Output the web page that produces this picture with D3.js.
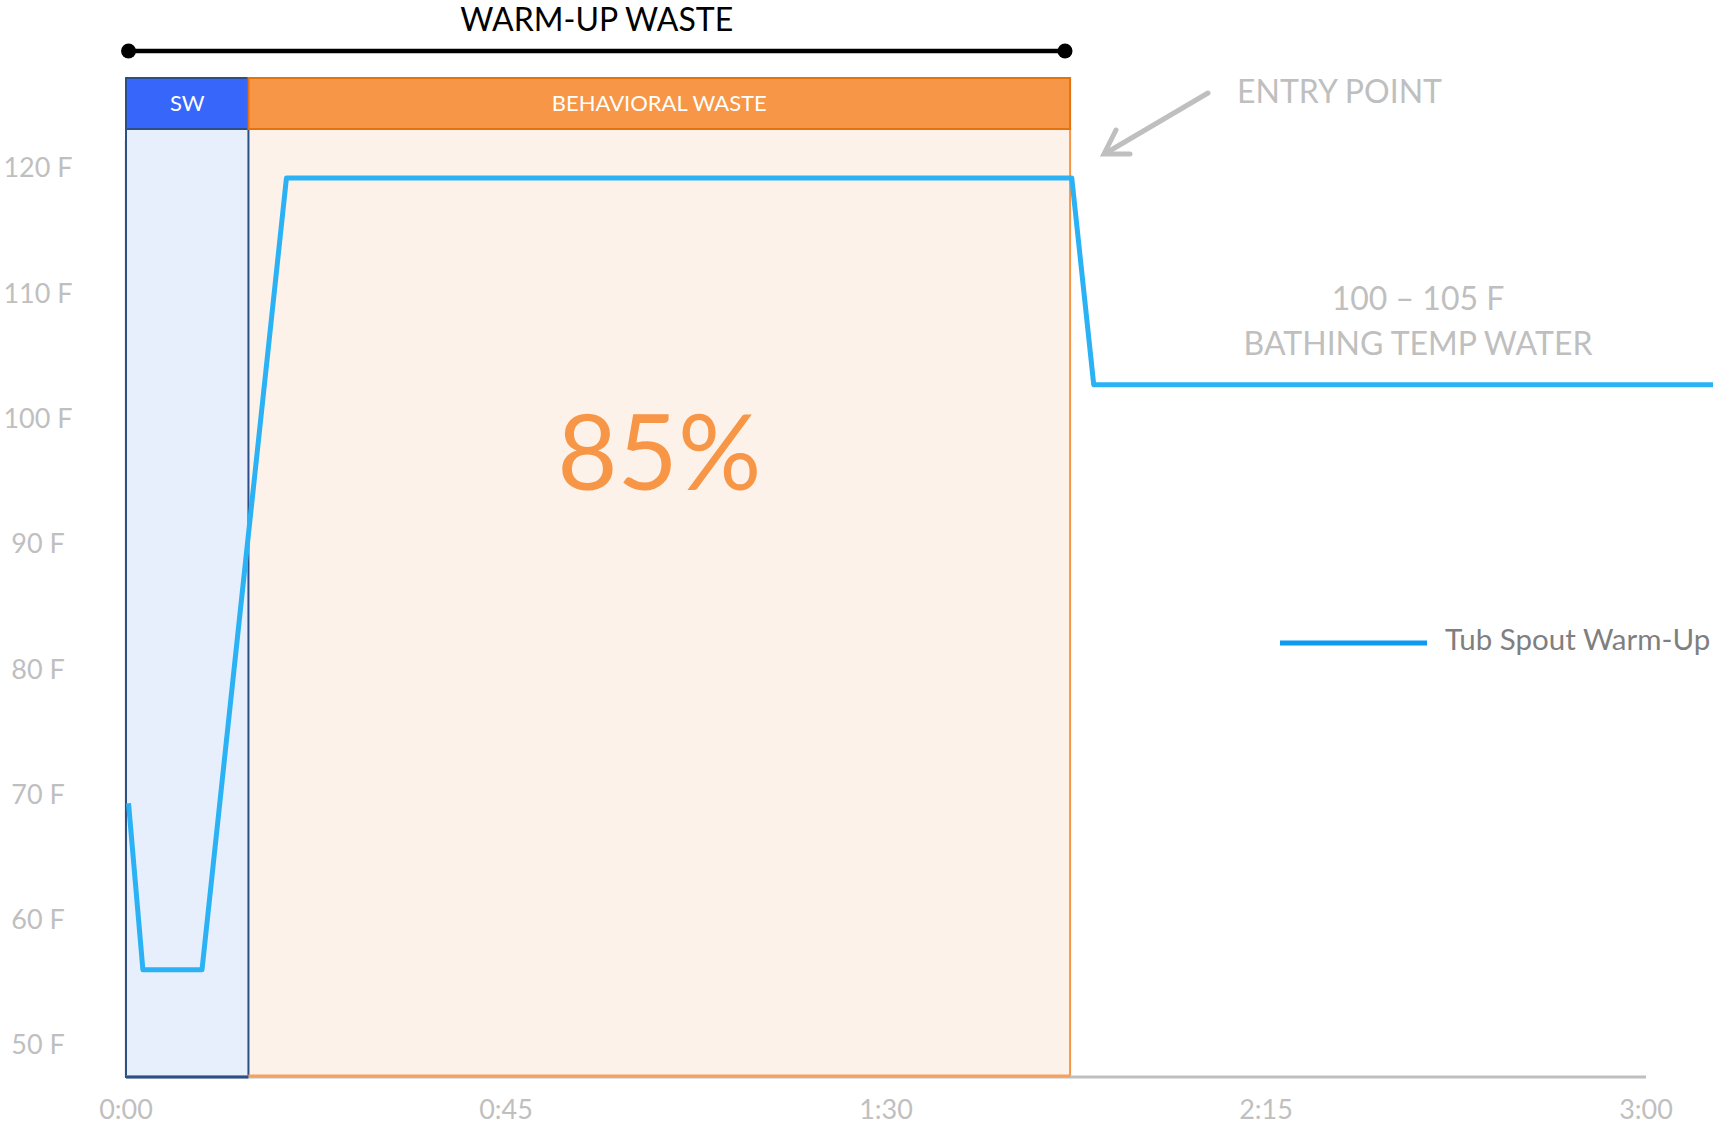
<!DOCTYPE html>
<html>
<head>
<meta charset="utf-8">
<script src="https://cdn.jsdelivr.net/npm/d3@7"></script>
<style>
  body { margin: 0; background: #fff; }
  svg { display: block; font-family: Lato, "Open Sans", sans-serif; }
</style>
</head>
<body>
<svg id="chart"></svg>
<script>
// series: tub spout temperature over time (seconds, deg F)
const times = [0.3, 2, 9, 19, 112, 114.6, 190];
const temps = [69.3, 56, 56, 119.2, 119.2, 102.7, 102.7];

const yTicks = [50, 60, 70, 80, 90, 100, 110, 120];
const xTicks = [0, 45, 90, 135, 180];
const xTickLabels = ['0:00', '0:45', '1:30', '2:15', '3:00'];

// shaded phases (seconds)
const phaseNames = ['SW', 'BEHAVIORAL WASTE'];
const phaseStart = [0, 14.5];
const phaseEnd = [14.5, 111.8];

const bracket = [0.3, 111.2];
const bracketLabel = 'WARM-UP WASTE';
const bigLabel = '85%';
const seriesName = 'Tub Spout Warm-Up';

const width = 1713;
const height = 1124;
const yMin = 47.45;

const x = d3.scaleLinear().domain([0, 180]).range([126, 1646]);
const y = d3.scaleLinear().domain([50, 120]).range([1045, 168]);
const base = y(yMin);

const svg = d3.select('#chart').attr('width', width).attr('height', height);

const headTop = 78, headBot = 129;
const phaseStyle = [
  { head: '#3766fb', headStroke: '#2c4f86', body: '#e8effc', size: 22 },
  { head: '#f79646', headStroke: '#e3720f', body: '#fdf2e9', size: 22 }
];

// y axis line
svg.append('line')
  .attr('x1', x(0)).attr('x2', x(0))
  .attr('y1', 140).attr('y2', base)
  .attr('stroke', '#bfbfbf').attr('stroke-width', 2.5);

// phase bodies
phaseNames.forEach((name, i) => {
  const s = phaseStyle[i];
  const x0 = x(phaseStart[i]), x1 = x(phaseEnd[i]);
  svg.append('rect')
    .attr('x', x0).attr('y', headBot)
    .attr('width', x1 - x0).attr('height', base - headBot)
    .attr('fill', s.body);
});
// SW body border
svg.append('rect')
  .attr('x', x(phaseStart[0])).attr('y', headBot)
  .attr('width', x(phaseEnd[0]) - x(phaseStart[0])).attr('height', base - headBot)
  .attr('fill', 'none').attr('stroke', '#2c4f86').attr('stroke-width', 2);
// behavioral right edge
svg.append('line')
  .attr('x1', x(phaseEnd[1])).attr('x2', x(phaseEnd[1]))
  .attr('y1', headBot).attr('y2', base)
  .attr('stroke', '#f79646').attr('stroke-width', 2);

// x axis line
svg.append('line')
  .attr('x1', x(0)).attr('x2', x(180))
  .attr('y1', base).attr('y2', base)
  .attr('stroke', '#bfbfbf').attr('stroke-width', 3);
svg.append('line')
  .attr('x1', x(phaseStart[1])).attr('x2', x(phaseEnd[1]))
  .attr('y1', base - 1).attr('y2', base - 1)
  .attr('stroke', '#f4a060').attr('stroke-width', 3);
svg.append('line')
  .attr('x1', x(phaseStart[0])).attr('x2', x(phaseEnd[0]))
  .attr('y1', base).attr('y2', base)
  .attr('stroke', '#2c4f86').attr('stroke-width', 3);

// phase headers
phaseNames.forEach((name, i) => {
  const s = phaseStyle[i];
  const x0 = x(phaseStart[i]), x1 = x(phaseEnd[i]);
  svg.append('rect')
    .attr('x', x0).attr('y', headTop)
    .attr('width', x1 - x0).attr('height', headBot - headTop)
    .attr('fill', s.head).attr('stroke', s.headStroke).attr('stroke-width', 2);
  svg.append('text')
    .attr('x', (x0 + x1) / 2).attr('y', (headTop + headBot) / 2)
    .attr('dy', '0.35em').attr('text-anchor', 'middle')
    .attr('fill', '#fff').attr('font-size', s.size)
    .text(name);
});

// big percentage
svg.append('text')
  .attr('x', (x(phaseStart[1]) + x(phaseEnd[1])) / 2).attr('y', 453)
  .attr('dy', '0.36em').attr('text-anchor', 'middle')
  .attr('fill', '#f79646').attr('font-size', 104)
  .text(bigLabel);

// temperature line
const line = d3.line().x((d, i) => x(times[i])).y(d => y(d));
svg.append('path')
  .datum(temps)
  .attr('d', line)
  .attr('fill', 'none')
  .attr('stroke', '#2ab2f5')
  .attr('stroke-width', 5)
  .attr('stroke-linejoin', 'round');

// y tick labels
svg.append('g').selectAll('text')
  .data(yTicks)
  .join('text')
  .attr('x', 38).attr('y', d => y(d))
  .attr('dy', '0.35em').attr('text-anchor', 'middle')
  .attr('fill', '#bfbfbf').attr('font-size', 27)
  .text(d => d + ' F');

// x tick labels
svg.append('g').selectAll('text')
  .data(xTicks)
  .join('text')
  .attr('x', d => x(d)).attr('y', 1110)
  .attr('dy', '0.35em').attr('text-anchor', 'middle')
  .attr('fill', '#bfbfbf').attr('font-size', 27)
  .text((d, i) => xTickLabels[i]);

// warm-up bracket
svg.append('line')
  .attr('x1', x(bracket[0])).attr('x2', x(bracket[1]))
  .attr('y1', 51).attr('y2', 51)
  .attr('stroke', '#000').attr('stroke-width', 4.5);
svg.append('g').selectAll('circle')
  .data(bracket)
  .join('circle')
  .attr('cx', d => x(d)).attr('cy', 51).attr('r', 7.5)
  .attr('fill', '#000');
svg.append('text')
  .attr('x', (x(bracket[0]) + x(bracket[1])) / 2).attr('y', 20)
  .attr('dy', '0.35em').attr('text-anchor', 'middle')
  .attr('fill', '#000').attr('font-size', 32)
  .text(bracketLabel);

// entry point annotation
svg.append('text')
  .attr('x', 1237).attr('y', 92)
  .attr('dy', '0.35em')
  .attr('fill', '#bfbfbf').attr('font-size', 32)
  .text('ENTRY POINT');
const arrow = svg.append('g')
  .attr('stroke', '#bfbfbf').attr('stroke-width', 5)
  .attr('stroke-linecap', 'round').attr('fill', 'none');
arrow.append('line').attr('x1', 1208).attr('y1', 93).attr('x2', 1106).attr('y2', 153);
arrow.append('path').attr('d', 'M1116,130 L1104,154 L1130,154');

svg.append('text')
  .attr('x', 1418).attr('y', 299)
  .attr('dy', '0.35em').attr('text-anchor', 'middle')
  .attr('fill', '#bfbfbf').attr('font-size', 32)
  .text('100 \u2013 105 F');
svg.append('text')
  .attr('x', 1418).attr('y', 344)
  .attr('dy', '0.35em').attr('text-anchor', 'middle')
  .attr('fill', '#bfbfbf').attr('font-size', 32)
  .text('BATHING TEMP WATER');

// legend
svg.append('line')
  .attr('x1', 1280).attr('x2', 1427)
  .attr('y1', 643).attr('y2', 643)
  .attr('stroke', '#0f9af2').attr('stroke-width', 5);
svg.append('text')
  .attr('x', 1445).attr('y', 640)
  .attr('dy', '0.35em')
  .attr('fill', '#7f7f7f').attr('font-size', 29.5)
  .text(seriesName);
</script>
</body>
</html>
